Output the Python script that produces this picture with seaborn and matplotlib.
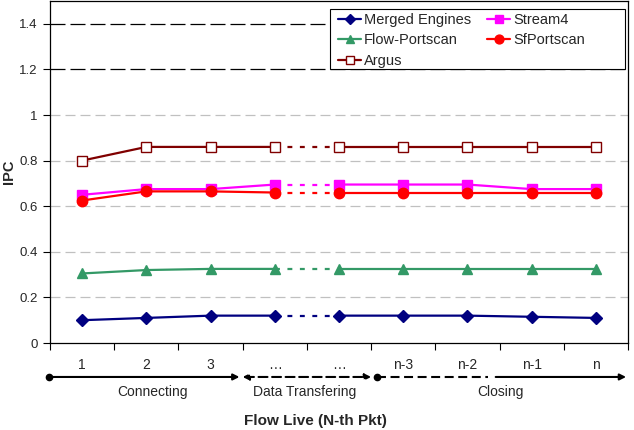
import matplotlib
matplotlib.use("Agg")
import matplotlib.pyplot as plt
from matplotlib.patches import Rectangle
import seaborn as sns
import pandas as pd
import numpy as np

categories = ["1", "2", "3", "…", "…", "n-3", "n-2", "n-1", "n"]
merged = [0.10, 0.11, 0.12, 0.12, 0.12, 0.12, 0.12, 0.115, 0.11]
flow = [0.305, 0.32, 0.325, 0.325, 0.325, 0.325, 0.325, 0.325, 0.325]
stream4 = [0.65, 0.675, 0.675, 0.695, 0.695, 0.695, 0.695, 0.675, 0.675]
sfport = [0.625, 0.665, 0.665, 0.66, 0.66, 0.66, 0.66, 0.66, 0.66]
argus = [0.80, 0.86, 0.86, 0.86, 0.86, 0.86, 0.86, 0.86, 0.86]
phases = ["Connecting", "Data Transfering", "Closing"]

series = [
    ("Merged Engines", merged, "#000080", "D", 6.5, "#000080"),
    ("Stream4", stream4, "#FF00FF", "s", 6.5, "#FF00FF"),
    ("Flow-Portscan", flow, "#339966", "^", 7.5, "#339966"),
    ("SfPortscan", sfport, "#FF0000", "o", 7.5, "#FF0000"),
    ("Argus", argus, "#800000", "s", 7.5, "white"),
]

sns.set_theme(style="white")
plt.rcParams["font.family"] = ["Liberation Sans", "DejaVu Sans"]

W, H = 634, 430
fig = plt.figure(figsize=(W / 100, H / 100), dpi=100)
ax = fig.add_axes([50 / W, 87 / H, 578 / W, 342 / H])

x = np.arange(len(categories))
handles = {}
for name, vals, col, mk, ms, fc in series:
    df = pd.DataFrame({"x": x, "y": vals})
    for seg in (df.iloc[0:4], df.iloc[4:9]):
        sns.lineplot(data=seg, x="x", y="y", ax=ax, color=col, lw=1.6,
                     marker=mk, markersize=ms, markerfacecolor=fc,
                     markeredgecolor=col, markeredgewidth=1.0, zorder=3)
    seg = df.iloc[3:5]
    sns.lineplot(data=seg, x="x", y="y", ax=ax, color=col, lw=1.6,
                 dashes=False, zorder=2).lines[-1].set_dashes([2.2, 3.4])
    h, = ax.plot([], [], color=col, lw=1.6, marker=mk, markersize=ms * 0.85,
                 markerfacecolor=fc, markeredgecolor=col, markeredgewidth=1.0)
    handles[name] = h

# legend frame (Excel-style, with extra room on the right)
frame = Rectangle((330 / W, 1 - 69 / H), 295 / W, 60 / H, transform=fig.transFigure,
                  facecolor="white", edgecolor="black", lw=0.8, zorder=4,
                  clip_on=False)
ax.add_patch(frame)

order = ["Merged Engines", "Flow-Portscan", "Argus", "Stream4", "SfPortscan"]
leg = ax.legend([handles[n] for n in order], order, ncol=2, loc="upper left",
                bbox_to_anchor=(338 / W, 1 - 13 / H),
                bbox_transform=fig.transFigure, fontsize=10.5, frameon=False,
                borderpad=0.0, labelspacing=0.44, handlelength=1.58,
                handletextpad=0.2, columnspacing=1.1, borderaxespad=0.0)
leg.set_zorder(5)

ax.set_xlim(-0.5, 8.5)
ax.set_ylim(0, 1.5)
ax.set_yticks([0, 0.2, 0.4, 0.6, 0.8, 1.0, 1.2, 1.4])
ax.set_yticklabels(["0", "0.2", "0.4", "0.6", "0.8", "1", "1.2", "1.4"], fontsize=9.5)
for yv in [0.2, 0.4, 0.6, 0.8, 1.0]:
    ax.axhline(yv, color="#c0c0c0", lw=0.9, dashes=(8, 4), zorder=0)
for yv in [1.2, 1.4]:
    ax.axhline(yv, color="black", lw=0.9, dashes=(12, 4), zorder=0)

ax.set_xticks(np.arange(-0.5, 9.0, 1.0))
ax.set_xticklabels([])
ax.set_xticks(x, minor=True)
ax.set_xticklabels(categories, minor=True, fontsize=10)
ax.tick_params(axis="x", which="major", direction="out", length=5, width=0.8,
               bottom=True, color="black")
ax.tick_params(axis="x", which="minor", length=0, pad=10.5)
ax.tick_params(axis="y", direction="out", length=5, width=0.8, left=True,
               color="black", pad=4)
for sp in ax.spines.values():
    sp.set_color("black")
    sp.set_linewidth(0.9)

ax.set_xlabel("")
ax.set_ylabel("IPC", fontsize=10.5, fontweight="bold")
ax.yaxis.set_label_coords(-0.058, 0.5)

# phase arrows below the axis
ya = -0.149
dash = (4.3, 2.2)
ax.annotate("", xy=(2.45, ya), xytext=(-0.52, ya), xycoords="data",
            annotation_clip=False,
            arrowprops=dict(arrowstyle="-|>", color="black", lw=1.5,
                            mutation_scale=9, shrinkA=0, shrinkB=0))
ax.plot([-0.52], [ya], "o", color="black", ms=4.5, clip_on=False)
ax.annotate("", xy=(4.5, ya), xytext=(2.5, ya), xycoords="data",
            annotation_clip=False,
            arrowprops=dict(arrowstyle="<|-|>", color="black", lw=1.5,
                            linestyle=(0, dash), mutation_scale=9,
                            shrinkA=0, shrinkB=0))
ax.plot([4.59], [ya], "o", color="black", ms=4.5, clip_on=False)
ax.plot([4.59, 6.32], [ya, ya], color="black", lw=1.5, dashes=dash,
        clip_on=False)
ax.annotate("", xy=(8.47, ya), xytext=(6.44, ya), xycoords="data",
            annotation_clip=False,
            arrowprops=dict(arrowstyle="-|>", color="black", lw=1.5,
                            mutation_scale=9, shrinkA=0, shrinkB=0))

yl = -0.184
for px, lab in zip([1.1, 3.47, 6.52], phases):
    ax.text(px, yl, lab, ha="center", va="top", fontsize=10, clip_on=False)

fig.text(315 / W, 1 - 421 / H, "Flow Live (N-th Pkt)", ha="center",
         va="center", fontsize=11, fontweight="bold")

fig.savefig("out.png", dpi=100)
